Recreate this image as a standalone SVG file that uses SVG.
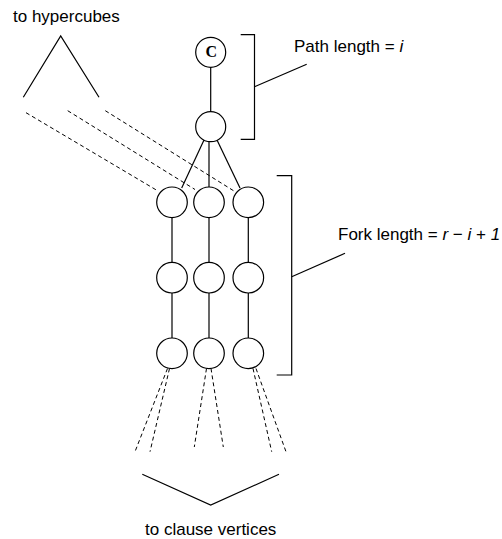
<svg xmlns="http://www.w3.org/2000/svg" width="502" height="539" viewBox="0 0 502 539">
<style>
.n{fill:#fff;stroke:#000;stroke-width:1.2}
.l{stroke:#000;stroke-width:1.2;fill:none}
.d{stroke:#000;stroke-width:1;fill:none;stroke-dasharray:4 3}
.t{font-family:"Liberation Sans",Arial,sans-serif;font-size:17px;fill:#000}
.c{font-family:"Liberation Serif","Times New Roman",serif;font-size:16px;font-weight:bold;fill:#000}
</style>
<rect width="502" height="539" fill="#fff"/>
<g id="connectors">
<line class="l" x1="210.7" y1="67" x2="210.7" y2="112"/>
<line class="l" x1="204" y1="140" x2="181.7" y2="188"/>
<line class="l" x1="209" y1="141.7" x2="209" y2="187"/>
<line class="l" x1="217" y1="140" x2="240" y2="188"/>
<line class="l" x1="172" y1="217.5" x2="172" y2="262.5"/>
<line class="l" x1="209" y1="217.5" x2="209" y2="262.5"/>
<line class="l" x1="248.3" y1="217.5" x2="248.3" y2="262.5"/>
<line class="l" x1="172" y1="293" x2="172" y2="338"/>
<line class="l" x1="209" y1="293" x2="209" y2="338"/>
<line class="l" x1="248.3" y1="293" x2="248.3" y2="338"/>
<line class="d" x1="26" y1="112.7" x2="158" y2="191"/>
<line class="d" x1="67.7" y1="110.7" x2="195" y2="189.5"/>
<line class="d" x1="105.3" y1="110.7" x2="234" y2="191"/>
<line class="d" x1="167.5" y1="368.5" x2="135" y2="451.7"/>
<line class="d" x1="169.5" y1="368.5" x2="150" y2="451.7"/>
<line class="d" x1="206.5" y1="368.5" x2="194.3" y2="447"/>
<line class="d" x1="211" y1="368.5" x2="223.3" y2="447"/>
<line class="d" x1="253" y1="368.5" x2="271.7" y2="451.7"/>
<line class="d" x1="256" y1="368.5" x2="286" y2="451.7"/>
<polyline class="l" points="23.3,97.3 60.7,36 99,97.3"/>
<polyline class="l" points="142.3,474.3 210.7,505 279,474.3"/>
<polyline class="l" points="240.7,34.7 254.5,34.7 254.5,139.3 240.7,139.3"/>
<line class="l" x1="254.5" y1="86.7" x2="306.7" y2="64.3"/>
<polyline class="l" points="276.7,175.7 291.7,175.7 291.7,375 276.7,375"/>
<line class="l" x1="291.7" y1="276.7" x2="345" y2="253.3"/>
</g>
<g id="nodeC"><circle class="n" cx="210.7" cy="52.3" r="15"/><text class="c" x="211.3" y="57" text-anchor="middle">C</text></g>
<g id="node2"><circle class="n" cx="210.7" cy="126.7" r="15"/></g>
<g id="f11"><circle class="n" cx="172" cy="202.3" r="15.3"/></g>
<g id="f12"><circle class="n" cx="209" cy="202.3" r="15.3"/></g>
<g id="f13"><circle class="n" cx="248.3" cy="202.3" r="15.3"/></g>
<g id="f21"><circle class="n" cx="172" cy="277.7" r="15.3"/></g>
<g id="f22"><circle class="n" cx="209" cy="277.7" r="15.3"/></g>
<g id="f23"><circle class="n" cx="248.3" cy="277.7" r="15.3"/></g>
<g id="f31"><circle class="n" cx="172" cy="353.3" r="15.3"/></g>
<g id="f32"><circle class="n" cx="209" cy="353.3" r="15.3"/></g>
<g id="f33"><circle class="n" cx="248.3" cy="353.3" r="15.3"/></g>
<g id="labels">
<text class="t" x="13" y="22">to hypercubes</text>
<text class="t" x="294" y="52">Path length = <tspan font-style="italic">i</tspan></text>
<text class="t" x="338" y="240">Fork length = <tspan font-style="italic">r</tspan> − <tspan font-style="italic">i</tspan> + <tspan font-style="italic">1</tspan></text>
<text class="t" x="145" y="535">to clause vertices</text>
</g>
</svg>
